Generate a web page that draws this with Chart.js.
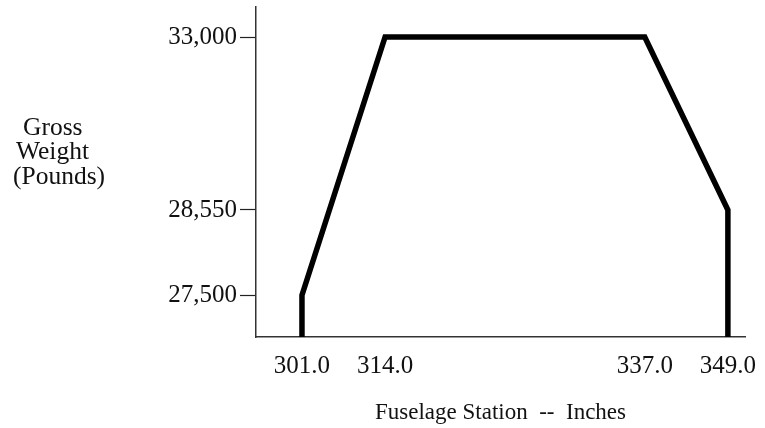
<!DOCTYPE html>
<html>
<head>
<meta charset="utf-8">
<script src="https://cdn.jsdelivr.net/npm/chart.js@4.4.1/dist/chart.umd.min.js"></script>
<style>
  html, body { margin: 0; padding: 0; background: #fff; }
  #wrap { width: 765px; height: 428px; position: relative; }
</style>
</head>
<body>
<div id="wrap"><canvas id="chart-envelope"></canvas></div>
<script>
  // envelope corners (fuselage station, gross weight)
  var stations = [301.0, 301.0, 314.0, 337.0, 349.0, 349.0];
  var weights = [27000, 27500, 33000, 33000, 28550, 27000];
  var stationTicks = [301.0, 314.0, 337.0, 349.0];
  var weightTicks = [27500, 28550, 33000];
  var yTitleLines = ["Gross", "Weight", "(Pounds)"];
  var xTitle = "Fuselage Station  --  Inches";

  // the original is a schematic: axes are not to scale, so each axis
  // maps values through a few fixed stops (value -> fraction of axis)
  var axisStops = {
    x: [[297, 0], [301, 0.094], [314, 0.264], [337, 0.795], [349, 0.965], [350.5, 1]],
    y: [[27000, 0], [27500, 0.127], [28550, 0.385], [33000, 0.909], [33700, 1]],
  };

  function lerpStops(stops, v, from, to) {
    for (var i = 1; i < stops.length; i++) {
      var a = stops[i - 1], b = stops[i];
      if (v <= b[from] || i === stops.length - 1) {
        var t = (v - a[from]) / (b[from] - a[from]);
        return a[to] + t * (b[to] - a[to]);
      }
    }
  }

  class PiecewiseScale extends Chart.LinearScale {
    getPixelForValue(value) {
      return this.getPixelForDecimal(lerpStops(axisStops[this.id], value, 0, 1));
    }
    getValueForPixel(pixel) {
      return lerpStops(axisStops[this.id], this.getDecimalForPixel(pixel), 1, 0);
    }
  }
  PiecewiseScale.id = "piecewise";
  PiecewiseScale.defaults = Chart.LinearScale.defaults;
  Chart.register(PiecewiseScale);

  var serif = "'Liberation Serif', 'DejaVu Serif', serif";

  var leftTitle = {
    id: "leftTitle",
    afterDraw: function (chart) {
      var ctx = chart.ctx;
      var spots = [[23, 135], [16, 159], [13, 184]];
      ctx.save();
      ctx.font = "25.5px " + serif;
      ctx.fillStyle = "#111";
      ctx.textAlign = "left";
      ctx.textBaseline = "alphabetic";
      yTitleLines.forEach(function (line, i) {
        ctx.fillText(line, spots[i][0], spots[i][1]);
      });
      ctx.restore();
    },
  };

  var points = stations.map(function (s, i) { return { x: s, y: weights[i] }; });

  new Chart(document.getElementById("chart-envelope").getContext("2d"), {
    type: "line",
    data: {
      datasets: [
        {
          data: points,
          borderColor: "#000",
          borderWidth: 5.5,
          borderJoinStyle: "miter",
          pointRadius: 0,
          tension: 0,
          fill: false,
        },
      ],
    },
    options: {
      responsive: true,
      maintainAspectRatio: false,
      animation: false,
      layout: { padding: { left: 0, top: 7, right: 20, bottom: 0 } },
      plugins: { legend: { display: false }, tooltip: { enabled: false } },
      scales: {
        x: {
          type: "piecewise",
          min: 297,
          max: 350.5,
          afterBuildTicks: function (s) {
            s.ticks = stationTicks.map(function (v) { return { value: v }; });
          },
          afterFit: function (s) {
            s.height = 91;
            s.paddingLeft = 0;
            s.paddingRight = 0;
          },
          grid: { display: true, drawOnChartArea: false, drawTicks: false },
          border: { color: "#333", width: 1.5 },
          ticks: {
            color: "#111",
            font: { family: serif, size: 25 },
            padding: 14,
            maxRotation: 0,
            autoSkip: false,
            callback: function (v) { return Number(v).toFixed(1); },
          },
          title: {
            display: true,
            text: xTitle,
            color: "#111",
            font: { family: serif, size: 23 },
            padding: { top: 0, bottom: 1 },
          },
        },
        y: {
          type: "piecewise",
          min: 27000,
          max: 33700,
          afterBuildTicks: function (s) {
            s.ticks = weightTicks.map(function (v) { return { value: v }; });
          },
          afterFit: function (s) {
            s.width = 256;
            s.paddingTop = 0;
            s.paddingBottom = 0;
          },
          grid: {
            drawOnChartArea: false,
            drawTicks: true,
            tickLength: 16,
            tickColor: "#222",
            tickWidth: 1.2,
          },
          border: { color: "#333", width: 1.5 },
          ticks: {
            color: "#111",
            font: { family: serif, size: 25 },
            padding: 3,
            autoSkip: false,
            callback: function (v) { return Number(v).toLocaleString("en-US"); },
          },
        },
      },
    },
    plugins: [leftTitle],
  });
</script>
</body>
</html>
